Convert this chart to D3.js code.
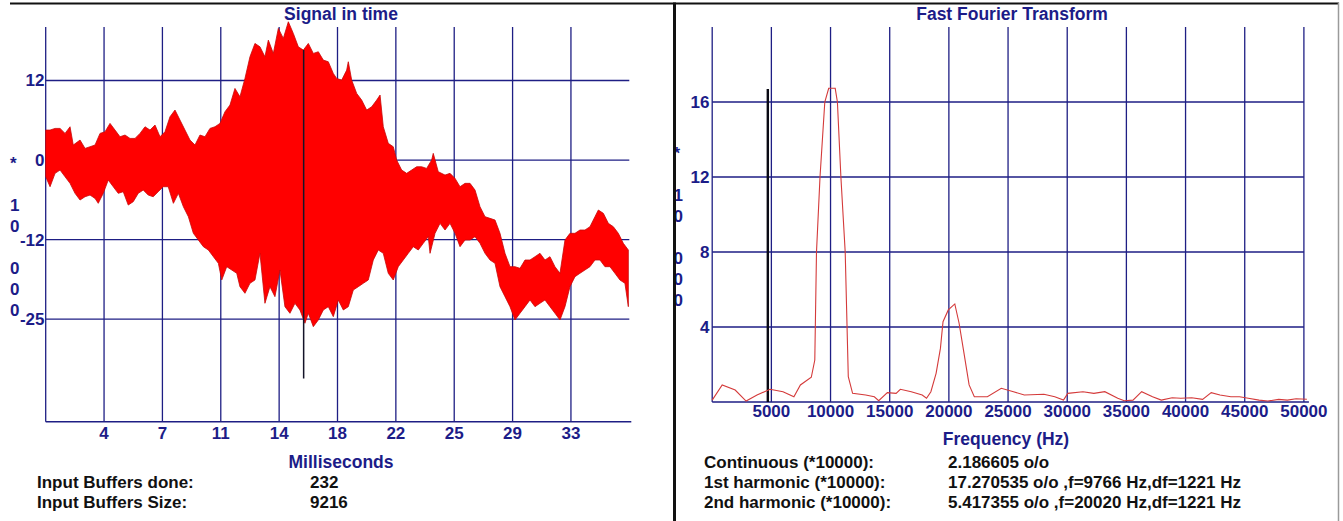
<!DOCTYPE html>
<html>
<head>
<meta charset="utf-8">
<script src="https://cdn.jsdelivr.net/npm/d3@7"></script>
<style>
  html, body { margin: 0; padding: 0; background: #ffffff; }
  svg { display: block; }
  text { font-family: "Liberation Sans", Arial, sans-serif; font-weight: bold; }
</style>
</head>
<body>
<svg id="chart" width="1343" height="521"></svg>
<script>
// ---------------- DATA ----------------
// Signal in time: upper / lower envelope of the dense waveform (ms, amplitude)
const upperT = [0,0.27,0.58,0.89,1.20,1.51,1.71,2.13,2.44,2.75,3.06,3.37,3.68,3.99,4.30,4.61,4.92,5.23,5.54,5.85,6.16,6.47,6.78,7.09,7.40,7.71,8.02,8.33,8.64,8.95,9.26,9.57,9.88,10.19,10.50,10.81,11.12,11.43,11.74,
  12.05,12.36,12.67,12.98,13.29,13.60,13.81,14.12,14.43,14.74,15.05,15.36,15.67,15.98,16.29,16.60,16.91,17.22,17.53,17.84,18.05,18.36,18.67,18.77,18.98,19.29,19.60,19.91,20.22,20.53,20.74,20.94,21.25,21.56,21.77,22.08,22.39,22.70,23.01,23.32,23.63,23.94,
  24.04,24.35,24.77,25.08,25.39,25.70,26.01,26.32,26.63,26.94,27.25,27.56,27.87,28.18,28.49,28.80,29.11,29.42,29.73,30.04,30.35,30.66,30.97,31.28,31.59,31.90,32.21,32.52,32.83,33.14,33.45,33.76,34.07,34.28,34.59,34.90,35.21,35.52,35.83,36.14];
const upperV = [4.71,4.71,4.97,4.97,4.19,5.23,2.36,3.14,1.83,2.09,2.36,4.19,4.45,5.76,4.71,3.66,3.93,3.40,3.40,4.19,5.23,4.71,5.50,3.66,4.45,6.80,7.85,6.28,4.71,3.14,2.36,3.93,3.66,4.97,5.23,5.76,7.59,8.64,11.25,
  9.94,12.82,16.22,18.32,17.79,16.22,18.84,16.75,20.68,19.11,21.72,19.89,17.79,17.27,18.32,16.75,17.01,15.70,15.44,13.61,12.82,12.56,14.13,15.44,12.56,10.47,9.42,7.85,8.37,9.42,10.21,5.23,2.62,2.09,0,-1.57,-2.09,-1.57,-1.05,-1.05,-1.31,0,
  1.05,-1.83,-2.36,-2.09,-2.88,-4.19,-3.66,-3.66,-4.71,-7.33,-8.90,-9.16,-9.42,-11.51,-14.65,-16.75,-16.75,-17.01,-15.70,-15.70,-15.18,-14.65,-15.70,-15.18,-16.75,-17.79,-12.56,-11.51,-11.51,-10.99,-10.99,-10.47,-8.90,-7.85,-8.37,-9.94,-10.47,-11.51,-13.08,-14.13];
const lowerT = [0,0.27,0.58,0.89,1.20,1.51,1.82,2.13,2.44,2.75,3.06,3.26,3.57,3.88,4.19,4.50,4.81,5.12,5.43,5.74,6.05,6.36,6.67,6.98,7.29,7.60,7.92,8.23,8.54,8.85,9.16,9.47,9.78,10.09,10.40,10.71,10.92,11.23,11.54,11.85,
  12.05,12.36,12.67,12.98,13.29,13.60,13.91,14.22,14.53,14.84,15.15,15.46,15.77,16.08,16.29,16.60,16.91,17.22,17.53,17.84,18.15,18.46,18.77,19.08,19.39,19.70,20.01,20.32,20.63,20.94,21.25,21.56,21.87,22.18,22.49,22.80,23.11,23.42,23.73,
  23.84,24.15,24.46,24.77,25.08,25.39,25.70,26.01,26.32,26.63,26.94,27.25,27.56,27.87,28.18,28.49,28.80,29.11,29.42,29.73,30.04,30.35,30.66,30.97,31.28,31.59,31.90,32.21,32.52,32.83,33.14,33.45,33.76,34.07,34.38,34.69,35.00,35.31,35.62,35.93,36.14];
const lowerV = [-2.62,-4.19,-2.09,-1.57,-2.62,-3.66,-5.23,-6.28,-5.76,-5.50,-6.02,-6.80,-5.23,-3.14,-4.19,-5.23,-4.97,-7.07,-6.54,-5.23,-4.71,-5.50,-5.76,-4.97,-4.19,-4.19,-6.80,-5.23,-7.33,-8.90,-11.51,-12.56,-13.61,-14.13,-15.18,-16.22,-18.84,-16.75,-17.27,-17.79,
  -19.89,-20.93,-19.36,-18.84,-14.65,-22.50,-19.89,-21.46,-17.27,-23.03,-24.07,-22.50,-23.55,-25.64,-24.07,-26.17,-25.12,-23.55,-23.03,-24.60,-21.98,-23.55,-23.03,-20.41,-19.89,-19.36,-18.84,-15.70,-14.13,-14.65,-17.79,-18.84,-16.75,-15.70,-14.65,-13.61,-14.13,-13.08,-12.04,
  -14.65,-11.51,-9.94,-10.99,-9.94,-11.51,-13.61,-12.56,-12.56,-12.04,-13.08,-14.65,-15.70,-16.22,-19.89,-21.46,-23.03,-25.12,-24.07,-23.03,-21.98,-23.03,-22.50,-21.98,-23.03,-24.07,-25.12,-23.03,-19.89,-18.32,-17.79,-17.27,-16.75,-15.70,-15.70,-16.75,-16.75,-17.79,-18.84,-19.36,-23.03];

const timeDomain = [0, 36.2];
const ampDomain = [-41.1, 20.9];
const timeTicks = [3.62, 7.24, 10.86, 14.48, 18.10, 21.72, 25.34, 28.96, 32.58];
const timeTickLabels = ["4", "7", "11", "14", "18", "22", "25", "29", "33"];
const ampTicks = [12.5, 0, -12.5, -25];
const ampTickLabels = ["12", "0", "-12", "-25"];
const timeCursor = 16.0;
const timeCursorRange = [-34.3, 17.3];

// FFT spectrum
const fftFreq = [0,845,1943,2865,3786,4884,5983,6904,7453,8374,8670,8813,9110,9515,9844,10394,10580,10875,11239,11500,
  11864,12970,13700,14070,14800,15540,15900,16820,17745,18110,18480,18920,19285,19505,19950,20500,20863,21235,21710,22150,
  23255,24430,25460,26375,28030,28950,29685,30050,31330,32250,33175,34270,34820,35560,36290,37210,37950,38870,39600,40520,
  41440,42170,42910,43830,44565,45300,46210,46950,47870,48600,49340,50250];
const fftMag = [0.1,0.91,0.64,0.05,0.37,0.68,0.55,0.28,0.91,1.32,2.24,8.0,12,16,16.73,16.73,16,12,8,1.35,
  0.46,0.37,0.28,0.07,0.5,0.46,0.68,0.55,0.37,0.2,0.55,1.53,2.86,4.28,4.91,5.23,4.2,2.77,0.91,0.28,
  0.28,0.73,0.55,0.37,0.41,0.28,0.1,0.46,0.55,0.46,0.55,0.2,0.07,0.1,0.55,0.28,0.1,0.23,0.2,0.23,
  0.14,0.5,0.37,0.28,0.28,0.2,0.1,0.05,0.14,0.1,0.17,0.15];
const freqDomain = [0, 50000];
const magDomain = [0, 20];
const freqTicks = [5000, 10000, 15000, 20000, 25000, 30000, 35000, 40000, 45000, 50000];
const freqTickLabels = ["5000", "10000", "15000", "20000", "25000", "30000", "35000", "40000", "45000", "50000"];
const magTicks = [4, 8, 12, 16];
const magTickLabels = ["4", "8", "12", "16"];
const freqCursor = 4700;
const freqCursorTop = 16.7;

// Texts
const unitChars = ["*", "", "1", "0", "", "0", "0", "0"];
const leftTitle = "Signal in time";
const rightTitle = "Fast Fourier Transform";
const leftXTitle = "Milliseconds";
const rightXTitle = "Frequency (Hz)";
const bufferLabels = ["Input Buffers done:", "Input Buffers Size:"];
const bufferValues = ["232", "9216"];
const statLabels = ["Continuous (*10000):", "1st harmonic (*10000):", "2nd harmonic (*10000):"];
const statValues = ["2.186605 o/o", "17.270535 o/o ,f=9766 Hz,df=1221 Hz", "5.417355 o/o ,f=20020 Hz,df=1221 Hz"];

// ---------------- DRAWING ----------------
const NAVY = "#1c1c88";
const GRID = "#1e1e84";
const svg = d3.select("#chart");

// ===== Left panel: Signal in time =====
const xT = d3.scaleLinear().domain(timeDomain).range([45.7, 629.3]);
const yA = d3.scaleLinear().domain(ampDomain).range([421.7, 27]);

const gL = svg.append("g");
// grid: vertical
gL.selectAll("line.vg").data(timeTicks).join("line")
  .attr("x1", d => xT(d)).attr("x2", d => xT(d))
  .attr("y1", yA(ampDomain[1])).attr("y2", yA(ampDomain[0]))
  .attr("stroke", GRID).attr("stroke-width", 1.3);
// grid: horizontal
gL.selectAll("line.hg").data(ampTicks).join("line")
  .attr("x1", xT(timeDomain[0])).attr("x2", xT(timeDomain[1]))
  .attr("y1", d => yA(d)).attr("y2", d => yA(d))
  .attr("stroke", GRID).attr("stroke-width", 1.3);
// axes lines
gL.append("line").attr("x1", xT(0)).attr("x2", xT(0))
  .attr("y1", yA(ampDomain[1])).attr("y2", yA(ampDomain[0]))
  .attr("stroke", GRID).attr("stroke-width", 1.3);
gL.append("line").attr("x1", xT(0)).attr("x2", xT(timeDomain[1]) + 2)
  .attr("y1", yA(ampDomain[0])).attr("y2", yA(ampDomain[0]))
  .attr("stroke", GRID).attr("stroke-width", 1.5);

// signal envelope polygon
const upperPts = upperT.map((t, i) => [t, upperV[i]]);
const lowerPts = lowerT.map((t, i) => [t, lowerV[i]]).reverse();
const poly = upperPts.concat(lowerPts);
const lineGen = d3.line().x(d => xT(d[0])).y(d => yA(d[1]));
gL.append("path").attr("d", lineGen(poly) + "Z")
  .attr("fill", "#ff0000").attr("stroke", "#c80808").attr("stroke-width", 0.8)
  .attr("stroke-linejoin", "miter");

// cursor
gL.append("line").attr("x1", xT(timeCursor)).attr("x2", xT(timeCursor))
  .attr("y1", yA(timeCursorRange[1])).attr("y2", yA(timeCursorRange[0]))
  .attr("stroke", "#141428").attr("stroke-width", 1.5);

// y tick labels
gL.selectAll("text.yl").data(ampTicks).join("text")
  .attr("x", 44.5).attr("y", d => yA(d) + 6)
  .attr("text-anchor", "end").attr("font-size", 17).attr("fill", NAVY)
  .text((d, i) => ampTickLabels[i]);
// x tick labels
gL.selectAll("text.xl").data(timeTicks).join("text")
  .attr("x", d => xT(d)).attr("y", 438.5)
  .attr("text-anchor", "middle").attr("font-size", 17).attr("fill", NAVY)
  .text((d, i) => timeTickLabels[i]);
// vertical unit chars
gL.selectAll("text.u").data(unitChars).join("text")
  .attr("x", 10).attr("y", (d, i) => 169 + 21 * i)
  .attr("font-size", 17).attr("fill", NAVY).text(d => d);
// titles
gL.append("text").attr("x", 341).attr("y", 19.5).attr("text-anchor", "middle")
  .attr("font-size", 17.5).attr("fill", NAVY).text(leftTitle);
gL.append("text").attr("x", 341).attr("y", 467.5).attr("text-anchor", "middle")
  .attr("font-size", 17.5).attr("fill", NAVY).text(leftXTitle);
// buffer info
bufferLabels.forEach((s, i) => {
  gL.append("text").attr("x", 37).attr("y", 488 + 20 * i)
    .attr("font-size", 17).attr("fill", "#111").text(s);
  gL.append("text").attr("x", 310).attr("y", 488 + 20 * i)
    .attr("font-size", 17).attr("fill", "#111").text(bufferValues[i]);
});

// ===== Right panel: FFT =====
const xF = d3.scaleLinear().domain(freqDomain).range([712.2, 1303.9]);
const yM = d3.scaleLinear().domain(magDomain).range([402, 27]);
const gR = svg.append("g");

gR.selectAll("line.vg").data([0].concat(freqTicks)).join("line")
  .attr("x1", d => xF(d)).attr("x2", d => xF(d))
  .attr("y1", yM(magDomain[1])).attr("y2", yM(0))
  .attr("stroke", GRID).attr("stroke-width", 1.3);
gR.selectAll("line.hg").data(magTicks).join("line")
  .attr("x1", xF(0)).attr("x2", xF(freqDomain[1]))
  .attr("y1", d => yM(d)).attr("y2", d => yM(d))
  .attr("stroke", GRID).attr("stroke-width", 1.3);
gR.append("line").attr("x1", xF(0)).attr("x2", xF(freqDomain[1]) + 5)
  .attr("y1", yM(0)).attr("y2", yM(0))
  .attr("stroke", GRID).attr("stroke-width", 1.6);

// cursor
gR.append("line").attr("x1", xF(freqCursor)).attr("x2", xF(freqCursor))
  .attr("y1", yM(freqCursorTop)).attr("y2", yM(0))
  .attr("stroke", "#0a0a14").attr("stroke-width", 2.4);

// spectrum line
const fftLine = d3.line().x((d, i) => xF(fftFreq[i])).y(d => yM(d));
gR.append("path").attr("d", fftLine(fftMag))
  .attr("fill", "none").attr("stroke", "#d43a3a").attr("stroke-width", 1.1);

// tick labels
gR.selectAll("text.yl").data(magTicks).join("text")
  .attr("x", 709.5).attr("y", d => yM(d) + 6)
  .attr("text-anchor", "end").attr("font-size", 17).attr("fill", NAVY)
  .text((d, i) => magTickLabels[i]);
gR.selectAll("text.xl").data(freqTicks).join("text")
  .attr("x", d => xF(d)).attr("y", 417)
  .attr("text-anchor", "middle").attr("font-size", 17).attr("fill", NAVY)
  .text((d, i) => freqTickLabels[i]);
gR.selectAll("text.u").data(unitChars).join("text")
  .attr("x", 673.5).attr("y", (d, i) => 159 + 21 * i)
  .attr("font-size", 17).attr("fill", NAVY).text(d => d);
gR.append("text").attr("x", 1012).attr("y", 19.5).attr("text-anchor", "middle")
  .attr("font-size", 17.5).attr("fill", NAVY).text(rightTitle);
gR.append("text").attr("x", 1006).attr("y", 445).attr("text-anchor", "middle")
  .attr("font-size", 17.5).attr("fill", NAVY).text(rightXTitle);
statLabels.forEach((s, i) => {
  gR.append("text").attr("x", 704).attr("y", 467.5 + 20 * i)
    .attr("font-size", 17).attr("fill", "#111").text(s);
  gR.append("text").attr("x", 948).attr("y", 467.5 + 20 * i)
    .attr("font-size", 17).attr("fill", "#111").text(statValues[i]);
});

// ===== Frame =====
svg.append("line").attr("x1", 10).attr("x2", 1339).attr("y1", 3.5).attr("y2", 3.5)
  .attr("stroke", "#111").attr("stroke-width", 2);
svg.append("line").attr("x1", 674.5).attr("x2", 674.5).attr("y1", 2.5).attr("y2", 521)
  .attr("stroke", "#111").attr("stroke-width", 3);
svg.append("line").attr("x1", 1338.5).attr("x2", 1338.5).attr("y1", 2.5).attr("y2", 521)
  .attr("stroke", "#9a9a9a").attr("stroke-width", 1.5);
</script>
</body>
</html>
